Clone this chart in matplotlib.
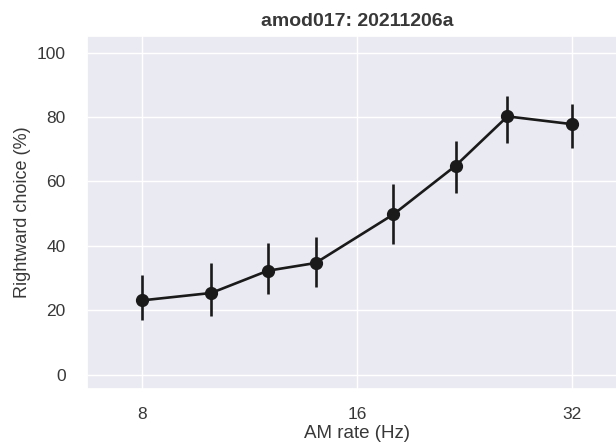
import matplotlib
matplotlib.use("Agg")
import matplotlib.pyplot as plt
import seaborn as sns
import numpy as np
from matplotlib.ticker import FixedLocator, FixedFormatter, NullLocator

am_rates = [8, 10, 12, 14, 18, 22, 26, 32]
rightward_pct = [23.1, 25.4, 32.3, 34.7, 49.8, 64.9, 80.2, 77.8]
ci_low = [16.9, 18.2, 25.1, 27.2, 40.5, 56.4, 72.0, 70.5]
ci_high = [31.1, 34.6, 41.0, 42.9, 59.2, 72.5, 86.5, 84.1]
x_ticks = [8, 16, 32]
x_tick_labels = ["8", "16", "32"]
y_ticks = [0, 20, 40, 60, 80, 100]

sns.set_theme(style="darkgrid", context="notebook")
plt.rcParams['font.family'] = ['Liberation Sans', 'DejaVu Sans']
txt = '0.22'

fig = plt.figure(figsize=(6.16, 4.47), dpi=100)
ax = fig.add_axes([0.1407, 0.1298, 0.878, 0.790])

y = np.array(rightward_pct)
yerr = np.vstack([y - np.array(ci_low), np.array(ci_high) - y])
ax.errorbar(am_rates, y, yerr=yerr, color='#1a1a1a', marker='o', markersize=8.5,
            linewidth=1.9, elinewidth=1.9, capsize=0)

ax.set_xscale('log', base=2)
ax.set_xlim(6.69, 38.3)
ax.xaxis.set_major_locator(FixedLocator(x_ticks))
ax.xaxis.set_major_formatter(FixedFormatter(x_tick_labels))
ax.xaxis.set_minor_locator(NullLocator())
ax.set_ylim(-4.4, 105.2)
ax.set_yticks(y_ticks)
ax.tick_params(axis='x', labelsize=12.5, labelcolor=txt, pad=7)
ax.tick_params(axis='y', labelsize=12.5, labelcolor=txt, pad=9)

ax.set_xlabel("AM rate (Hz)", fontsize=13.5, labelpad=2, color=txt)
ax.set_ylabel("Rightward choice (%)", fontsize=13, labelpad=4, color=txt)
ax.set_title("amod017: 20211206a", fontsize=14, fontweight='bold', pad=7, color=txt)

fig.savefig("out.png", dpi=100)
